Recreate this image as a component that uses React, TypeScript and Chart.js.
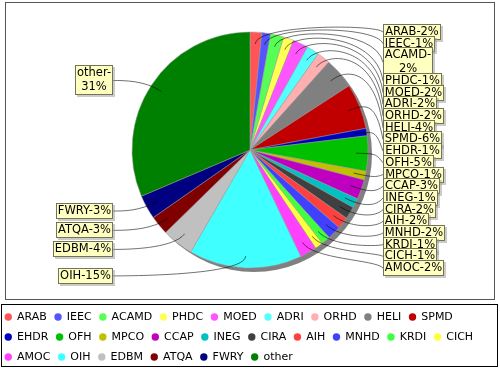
import React, { useEffect, useRef } from "react";
import { Chart, registerables } from "chart.js";
Chart.register(...registerables);

const categories = ["ARAB", "IEEC", "ACAMD", "PHDC", "MOED", "ADRI", "ORHD", "HELI", "SPMD", "EHDR", "OFH", "MPCO", "CCAP", "INEG", "CIRA", "AIH", "MNHD", "KRDI", "CICH", "AMOC", "OIH", "EDBM", "ATQA", "FWRY", "other"];
const values = [1.6, 1.2, 1.8, 1.4, 2.1, 1.7, 1.8, 4.2, 6.2, 1.0, 4.8, 1.2, 2.7, 1.3, 1.7, 1.6, 1.9, 1.2, 1.1, 2.3, 15.4, 4.3, 2.6, 3.3, 31.3];
const colors = ["#FF5555", "#5555FF", "#55FF55", "#FFFF55", "#FF55FF", "#55FFFF", "#FFAFAF", "#808080", "#C00000", "#0000C0", "#00C000", "#C0C000", "#C000C0", "#00C0C0", "#404040", "#FF4040", "#4040FF", "#40FF40", "#FFFF40", "#FF40FF", "#40FFFF", "#C0C0C0", "#800000", "#000080", "#008000"];

const FONT = "'DejaVu Sans', sans-serif";
const LABEL_SIZE = 11.5;
const PIE = { cx: 250, cy: 150, r: 118 };
const LINK_R = 126;
const GAP_L = 11;
const GAP_R = 7;
const LINE_H = 14;
const WRAP_W = 59.4;

type Rec = { lines: string[]; w: number; h: number; base: number; y: number; mid: number; right: boolean };

function distribute(recs: Rec[], minY: number, height: number) {
  recs.sort((a, b) => a.base - b.base);
  recs.forEach((r) => (r.y = r.base));
  const overlap = () => {
    let y = -1e9;
    for (const r of recs) {
      if (y > r.y - r.h / 2) return true;
      y = r.y + r.h / 2;
    }
    return false;
  };
  if (overlap()) {
    for (let i = 0; i < recs.length - 1; i++) {
      const a = recs[i], b = recs[i + 1];
      if (b.y - b.h / 2 < a.y + a.h / 2) b.y = Math.min(minY + height, a.y + a.h / 2 + b.h / 2);
    }
  }
  if (overlap()) {
    for (let i = recs.length - 1; i > 0; i--) {
      const a = recs[i], b = recs[i - 1];
      if (b.y + b.h / 2 > a.y - a.h / 2) b.y = Math.max(minY, a.y - a.h / 2 - b.h / 2);
    }
  }
  if (overlap()) {
    const sum = recs.reduce((s, r) => s + r.h, 0);
    let gap = height - sum;
    if (recs.length > 1) gap /= recs.length - 1;
    let y = minY;
    for (const r of recs) {
      y += r.h / 2;
      r.y = y;
      y += r.h / 2 + gap;
    }
  }
}

const framePlugin = {
  id: "frame",
  afterLayout(chart: any) {
    Object.assign(chart.chartArea, {
      left: PIE.cx - PIE.r,
      right: PIE.cx + PIE.r,
      top: PIE.cy - PIE.r,
      bottom: PIE.cy + PIE.r,
      width: PIE.r * 2,
      height: PIE.r * 2,
    });
    if (chart.legend) {
      chart.legend.left = -3;
      chart.legend.top += 3;
    }
  },
  beforeDatasetsDraw(chart: any) {
    const ctx = chart.ctx;
    ctx.save();
    ctx.fillStyle = "#808080";
    ctx.beginPath();
    ctx.arc(PIE.cx + 4, PIE.cy + 4, PIE.r, 0, Math.PI * 2);
    ctx.fill();
    ctx.restore();
  },
  afterDatasetsDraw(chart: any) {
    const ctx = chart.ctx;
    const arcs = chart.getDatasetMeta(0).data;
    const total = values.reduce((a, b) => a + b, 0);
    ctx.save();
    ctx.font = `${LABEL_SIZE}px ${FONT}`;
    const recs: Rec[] = arcs.map((arc: any, i: number) => {
      const p = arc.getProps(["startAngle", "endAngle"], true);
      const mid = (p.startAngle + p.endAngle) / 2;
      const text = `${categories[i]}-${Math.round((values[i] / total) * 100)}%`;
      let lines = [text];
      if (ctx.measureText(text).width > WRAP_W) {
        const k = text.indexOf("-") + 1;
        lines = [text.slice(0, k), text.slice(k)];
      }
      const w = Math.max(...lines.map((l) => ctx.measureText(l).width)) + 4;
      const h = lines.length * LINE_H + 2;
      return { lines, w, h, base: PIE.cy + Math.sin(mid) * LINK_R, y: 0, mid, right: Math.cos(mid) >= 0 };
    });
    const left = recs.filter((r) => !r.right);
    const right = recs.filter((r) => r.right);
    distribute(left, PIE.cy - LINK_R, LINK_R * 2);
    distribute(right, PIE.cy - LINK_R, LINK_R * 2);
    const drawOne = (r: Rec) => {
      const anchorX = r.right ? PIE.cx + LINK_R : PIE.cx - LINK_R;
      const tx = r.right ? anchorX + GAP_R : anchorX - GAP_L;
      const ex = PIE.cx + Math.cos(r.mid) * LINK_R;
      const ey = PIE.cy + Math.sin(r.mid) * LINK_R;
      const lx = PIE.cx + Math.cos(r.mid) * PIE.r * 0.9;
      const ly = PIE.cy + Math.sin(r.mid) * PIE.r * 0.9;
      ctx.strokeStyle = "rgba(0,0,0,0.7)";
      ctx.lineWidth = 0.8;
      ctx.beginPath();
      ctx.moveTo(tx, r.y);
      ctx.bezierCurveTo(anchorX, ey, ex, ey, lx, ly);
      ctx.stroke();
      const bw = Math.round(r.w);
      const bx = Math.round(r.right ? tx : tx - bw);
      const by = Math.round(r.y - r.h / 2);
      ctx.fillStyle = "rgba(151,151,151,0.5)";
      ctx.fillRect(bx + 2, by + 2, bw, r.h);
      ctx.fillStyle = "#FFFFC0";
      ctx.fillRect(bx, by, bw, r.h);
      ctx.strokeStyle = "rgba(0,0,0,0.55)";
      ctx.lineWidth = 1;
      ctx.strokeRect(bx + 0.5, by + 0.5, bw - 1, r.h - 1);
      ctx.fillStyle = "#000";
      ctx.textAlign = "center";
      ctx.textBaseline = "middle";
      r.lines.forEach((l, k) => ctx.fillText(l, bx + bw / 2, by + 1 + LINE_H * (k + 0.5)));
    };
    left.forEach(drawOne);
    right.forEach(drawOne);
    ctx.restore();
  },
  afterDraw(chart: any) {
    const ctx = chart.ctx;
    ctx.save();
    const lg = chart.legend;
    if (lg && lg.legendHitBoxes) {
      lg.legendHitBoxes.forEach((hb: any, i: number) => {
        ctx.fillStyle = colors[i];
        ctx.beginPath();
        ctx.arc(hb.left + 3.25, hb.top + 6, 3.7, 0, Math.PI * 2);
        ctx.fill();
      });
    }
    ctx.lineWidth = 1;
    ctx.strokeStyle = "#555555";
    ctx.strokeRect(5.5, 2.5, 489, 297);
    ctx.strokeStyle = "#000000";
    ctx.strokeRect(1.5, 304.5, 496, 62);
    ctx.restore();
  },
};

export default function App() {
  const ref = useRef<HTMLCanvasElement>(null);
  useEffect(() => {
    const canvas = ref.current!;
    const chart = new Chart(canvas, {
      type: "pie",
      data: {
        labels: categories,
        datasets: [
          {
            data: values,
            backgroundColor: colors,
            borderColor: "#a0a0a0",
            borderWidth: 0.5,
            radius: PIE.r,
            clip: false,
          } as any,
        ],
      },
      options: {
        animation: false,
        responsive: false,
        layout: { padding: 0 },
        plugins: {
          tooltip: { enabled: false },
          legend: {
            display: true,
            position: "bottom",
            align: "start",
            labels: {
              font: { family: FONT, size: 11 },
              color: "#000",
              boxWidth: 6.5,
              boxHeight: 12,
              padding: 8,
              usePointStyle: false,
              generateLabels: () =>
                categories.map((c, i) => ({
                  text: c,
                  fillStyle: "rgba(0,0,0,0)",
                  strokeStyle: "rgba(0,0,0,0)",
                  lineWidth: 0,
                  hidden: false,
                  index: i,
                  datasetIndex: 0,
                  fontColor: "#000",
                })),
            },
          },
        },
      } as any,
      plugins: [framePlugin],
    });
    return () => chart.destroy();
  }, []);
  return (
    <div style={{ position: "absolute", left: 0, top: 0, width: 500, height: 370, background: "#fff" }}>
      <canvas ref={ref} width={500} height={370} style={{ display: "block", width: 500, height: 370 }} />
    </div>
  );
}
